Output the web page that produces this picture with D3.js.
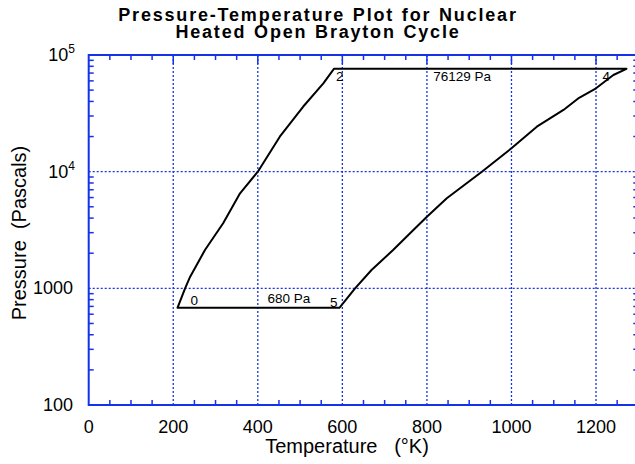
<!DOCTYPE html>
<html>
<head>
<meta charset="utf-8">
<script src="https://cdn.jsdelivr.net/npm/d3@7"></script>
<style>
  body { margin: 0; background: #fff; }
  svg { display: block; font-family: "Liberation Sans", Arial, Helvetica, sans-serif; }
</style>
</head>
<body>
<div id="chart"></div>
<script>
// compression 0 -> 2
const compTemps = [210, 228, 240, 275, 318, 358, 400, 452, 507, 555, 580];
const compPressures = [680, 1000, 1258, 2130, 3610, 6520, 10000, 19950, 36000, 57200, 76129];
// expansion 4 -> 5
const expTemps = [1272, 1241, 1200, 1160, 1123, 1060, 1000, 930, 847, 800, 768, 720, 669, 630, 593];
const expPressures = [76129, 67400, 51800, 43000, 33800, 24300, 15870, 10000, 5910, 4110, 3162, 2130, 1436, 1000, 680];

const highPressure = 76129;
const lowPressure = 680;

const xTicks = [0, 200, 400, 600, 800, 1000, 1200];
const yTicks = [100, 1000, 10000, 100000];

const width = 635;
const height = 464;
const blue = '#1433e8';

const svg = d3.select('#chart')
  .append('svg')
    .attr('width', width)
    .attr('height', height)
    .style('overflow', 'hidden');

const x = d3.scaleLinear().domain([0, 1300]).range([88.7, 638.3]);
const y = d3.scaleLog().domain([100, 100000]).range([405, 55]);

// grid
const grid = svg.append('g')
    .attr('stroke', blue)
    .attr('stroke-width', 1.3)
    .attr('stroke-dasharray', '2,2');

grid.selectAll('.vgrid')
  .data(xTicks.slice(1))
  .join('line')
    .attr('x1', d => x(d)).attr('x2', d => x(d))
    .attr('y1', y(100)).attr('y2', y(100000));

grid.selectAll('.hgrid')
  .data([1000, 10000])
  .join('line')
    .attr('x1', x(0)).attr('x2', x(1300))
    .attr('y1', d => y(d)).attr('y2', d => y(d));

// minor ticks
const xMinor = d3.range(50, 1300, 50).filter(d => d % 200 !== 0);
const yMinor = [];
for (let e = 100; e < 100000; e *= 10) {
  for (let k = 2; k <= 9; k++) yMinor.push(e * k);
}

const ticks = svg.append('g').attr('stroke', blue).attr('stroke-width', 1.5);

ticks.selectAll('.xb')
  .data(xMinor)
  .join('line')
    .attr('x1', d => x(d)).attr('x2', d => x(d))
    .attr('y1', y(100)).attr('y2', y(100) - 5);

ticks.selectAll('.xt')
  .data(xMinor)
  .join('line')
    .attr('x1', d => x(d)).attr('x2', d => x(d))
    .attr('y1', y(100000)).attr('y2', y(100000) + 5);

ticks.selectAll('.xtm')
  .data(xTicks.slice(1))
  .join('line')
    .attr('x1', d => x(d)).attr('x2', d => x(d))
    .attr('y1', y(100000)).attr('y2', y(100000) + 9);

ticks.selectAll('.yl')
  .data(yMinor)
  .join('line')
    .attr('x1', x(0)).attr('x2', x(0) + 5)
    .attr('y1', d => y(d)).attr('y2', d => y(d));

ticks.selectAll('.yr')
  .data(yMinor)
  .join('line')
    .attr('x1', x(1300)).attr('x2', x(1300) - 5)
    .attr('y1', d => y(d)).attr('y2', d => y(d));

// frame
svg.append('rect')
    .attr('x', x(0))
    .attr('y', y(100000))
    .attr('width', x(1300) - x(0))
    .attr('height', y(100) - y(100000))
    .attr('fill', 'none')
    .attr('stroke', blue)
    .attr('stroke-width', 2);

// tick labels
svg.selectAll('.xlabel')
  .data(xTicks)
  .join('text')
    .attr('x', d => x(d))
    .attr('y', 433)
    .attr('text-anchor', 'middle')
    .attr('font-size', 18)
    .text(d => d);

const yLabels = svg.selectAll('.ylabel')
  .data(yTicks)
  .join('text')
    .attr('x', d => d >= 10000 ? 75 : 73)
    .attr('y', d => y(d) + 6)
    .attr('text-anchor', 'end')
    .attr('font-size', 18);

yLabels.each(function(d) {
  const t = d3.select(this);
  if (d >= 10000) {
    t.append('tspan').text('10');
    t.append('tspan')
      .attr('font-size', 12)
      .attr('dy', -8)
      .text(Math.round(Math.log10(d)));
  } else {
    t.text(d);
  }
});

// axis titles
svg.append('text')
    .attr('x', 347)
    .attr('y', 453)
    .attr('text-anchor', 'middle')
    .attr('font-size', 20)
    .attr('xml:space', 'preserve')
    .text('Temperature   (°K)');

svg.append('text')
    .attr('transform', 'translate(26,233) rotate(-90)')
    .attr('text-anchor', 'middle')
    .attr('font-size', 20)
    .attr('xml:space', 'preserve')
    .text('Pressure  (Pascals)');

// title
const title = svg.append('text')
    .attr('text-anchor', 'middle')
    .attr('font-size', 18)
    .attr('font-weight', 'bold')
    .attr('letter-spacing', 1.8)
    .attr('word-spacing', 1);
title.append('tspan').attr('x', 318).attr('y', 21).text('Pressure-Temperature Plot for Nuclear');
title.append('tspan').attr('x', 318).attr('y', 37.5).text('Heated Open Brayton Cycle');

// cycle
const cycle = [];
compTemps.forEach((t, i) => cycle.push([t, compPressures[i]]));
expTemps.forEach((t, i) => cycle.push([t, expPressures[i]]));

const line = d3.line()
  .x(d => x(d[0]))
  .y(d => y(d[1]));

svg.append('path')
    .datum(cycle)
    .attr('d', line(cycle) + 'Z')
    .attr('fill', 'none')
    .attr('stroke', '#000')
    .attr('stroke-width', 2)
    .attr('stroke-linejoin', 'round');

// annotations
const t0 = compTemps[0];
const t2 = compTemps[compTemps.length - 1];
const t4 = expTemps[0];
const t5 = expTemps[expTemps.length - 1];

const notes = [
  { text: '0', x: x(t0) + 13, y: y(lowPressure) - 3, anchor: 'start' },
  { text: lowPressure + ' Pa', x: x((t0 + t5) / 2) + 9, y: y(lowPressure) - 5, anchor: 'start' },
  { text: '5', x: x(t5) - 2, y: y(lowPressure) - 1, anchor: 'end' },
  { text: '2', x: x(t2) + 2, y: y(highPressure) + 12, anchor: 'start' },
  { text: highPressure + ' Pa', x: x((t2 + t4) / 2) - 47, y: y(highPressure) + 12, anchor: 'start' },
  { text: '4', x: x(t4) - 24, y: y(highPressure) + 12, anchor: 'start' }
];

svg.selectAll('.note')
  .data(notes)
  .join('text')
    .attr('x', d => d.x)
    .attr('y', d => d.y)
    .attr('text-anchor', d => d.anchor)
    .attr('font-size', 13.5)
    .text(d => d.text);
</script>
</body>
</html>
